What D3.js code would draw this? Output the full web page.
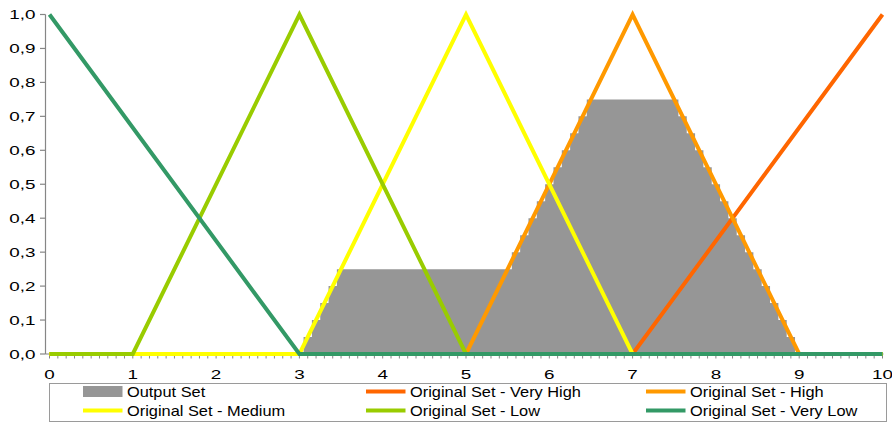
<!DOCTYPE html>
<html>
<head>
<meta charset="utf-8">
<script src="https://cdn.jsdelivr.net/npm/d3@7"></script>
<style>
  html, body { margin: 0; padding: 0; background: #fff; }
  svg { display: block; }
  text { font-family: "Liberation Sans", Arial, sans-serif; fill: #000; }
</style>
</head>
<body>
<svg id="chart" width="892" height="425"></svg>
<script>
// ---- data ----
const outputX = [3.0,3.1,3.2,3.3,3.4,3.5,3.6,3.7,3.8,3.9,4.0,4.1,4.2,4.3,4.4,4.5,4.6,4.7,4.8,4.9,
  5.0,5.1,5.2,5.3,5.4,5.5,5.6,5.7,5.8,5.9,6.0,6.1,6.2,6.3,6.4,6.5,6.6,6.7,6.8,6.9,
  7.0,7.1,7.2,7.3,7.4,7.5,7.6,7.7,7.8,7.9,8.0,8.1,8.2,8.3,8.4,8.5,8.6,8.7,8.8,8.9,9.0];
const outputY = [0,0.05,0.10,0.15,0.20,0.25,0.25,0.25,0.25,0.25,0.25,0.25,0.25,0.25,0.25,0.25,0.25,0.25,0.25,0.25,
  0.25,0.25,0.25,0.25,0.25,0.25,0.30,0.35,0.40,0.45,0.50,0.55,0.60,0.65,0.70,0.75,0.75,0.75,0.75,0.75,
  0.75,0.75,0.75,0.75,0.75,0.75,0.70,0.65,0.60,0.55,0.50,0.45,0.40,0.35,0.30,0.25,0.20,0.15,0.10,0.05,0];

const veryHighX = [0, 7, 10];
const veryHighY = [0, 0, 1];
const highX = [0, 5, 7, 9, 10];
const highY = [0, 0, 1, 0, 0];
const mediumX = [0, 3, 5, 7, 10];
const mediumY = [0, 0, 1, 0, 0];
const lowX = [0, 1, 3, 5, 10];
const lowY = [0, 0, 1, 0, 0];
const veryLowX = [0, 3, 10];
const veryLowY = [1, 0, 0];

const seriesNames = ["Output Set", "Original Set - Very High", "Original Set - High",
  "Original Set - Medium", "Original Set - Low", "Original Set - Very Low"];
const seriesColors = ["#969696", "#FF6600", "#FF9900", "#FFFF00", "#99CC00", "#339966"];

const xTicks = [0,1,2,3,4,5,6,7,8,9,10];
const yTicks = [0,0.1,0.2,0.3,0.4,0.5,0.6,0.7,0.8,0.9,1.0];
const yTickLabels = ["0,0","0,1","0,2","0,3","0,4","0,5","0,6","0,7","0,8","0,9","1,0"];

// ---- drawing ----
const svg = d3.select("#chart");
const x = d3.scaleLinear().domain([0, 10]).range([49.5, 882.5]);
const y = d3.scaleLinear().domain([0, 1]).range([354, 14.5]);
const axisColor = "#868686";
const axisSX = 1.45, legendSX = 1.17;

// output set as stepped area (each sample covers +/- 0.05)
const areaGen = d3.area()
  .x(d => x(d[0])).y0(y(0)).y1(d => y(d[1]))
  .curve(d3.curveStep);
svg.append("path")
  .attr("d", areaGen(outputX.map((v, i) => [v, outputY[i]])))
  .attr("fill", seriesColors[0]);

// axes
const gAx = svg.append("g");
gAx.append("line").attr("x1", 45.5).attr("x2", 45.5).attr("y1", y(1)).attr("y2", y(0))
  .attr("stroke", axisColor).attr("stroke-width", 1.2);
gAx.append("line").attr("x1", 45.5).attr("x2", x(10) + 1).attr("y1", y(0)).attr("y2", y(0))
  .attr("stroke", axisColor).attr("stroke-width", 1.2);
gAx.selectAll(".yt").data(yTicks).join("line")
  .attr("x1", 40).attr("x2", 45.5).attr("y1", d => y(d)).attr("y2", d => y(d))
  .attr("stroke", axisColor).attr("stroke-width", 1.2);
gAx.selectAll(".ytl").data(yTicks).join("text")
  .attr("transform", d => `translate(35.5,${y(d) + 4.7}) scale(${axisSX},1)`)
  .attr("text-anchor", "end").attr("font-size", 13)
  .text((d, i) => yTickLabels[i]);
const minor = d3.range(0, 101).map(i => i / 10);
gAx.selectAll(".xt").data(minor).join("line")
  .attr("x1", d => x(d)).attr("x2", d => x(d)).attr("y1", y(0)).attr("y2", y(0) + 4.5)
  .attr("stroke", axisColor).attr("stroke-width", 1);
gAx.selectAll(".xtl").data(xTicks).join("text")
  .attr("transform", d => `translate(${x(d)},378.5) scale(${axisSX},1)`)
  .attr("text-anchor", "middle").attr("font-size", 13)
  .text(d => d);

// lines
const lineGen = d3.line().x(d => x(d[0])).y(d => y(d[1]));
const lines = [
  [veryHighX, veryHighY, seriesColors[1]],
  [highX, highY, seriesColors[2]],
  [mediumX, mediumY, seriesColors[3]],
  [lowX, lowY, seriesColors[4]],
  [veryLowX, veryLowY, seriesColors[5]]
];
svg.append("g").selectAll("path").data(lines).join("path")
  .attr("d", d => lineGen(d[0].map((v, i) => [v, d[1][i]])))
  .attr("fill", "none")
  .attr("stroke", d => d[2])
  .attr("stroke-width", 4)
  .attr("stroke-linejoin", "miter");

// legend
const lg = svg.append("g");
lg.append("rect").attr("x", 49.5).attr("y", 383.5).attr("width", 837).attr("height", 38)
  .attr("fill", "#fff").attr("stroke", "#9a9a9a").attr("stroke-width", 1);
const colX = [83, 366, 646];
const rowY = [391.5, 410.5];
seriesNames.forEach((name, i) => {
  const cx = colX[i % 3], cy = rowY[Math.floor(i / 3)];
  if (i === 0) {
    lg.append("rect").attr("x", cx).attr("y", cy - 5.5).attr("width", 39.5).attr("height", 11)
      .attr("fill", seriesColors[0]);
  } else {
    lg.append("line").attr("x1", cx).attr("x2", cx + 39.5).attr("y1", cy).attr("y2", cy)
      .attr("stroke", seriesColors[i]).attr("stroke-width", 4);
  }
  lg.append("text")
    .attr("transform", `translate(${cx + 44},${cy + 5.2}) scale(${legendSX},1)`)
    .attr("font-size", 14)
    .text(name);
});
</script>
</body>
</html>
